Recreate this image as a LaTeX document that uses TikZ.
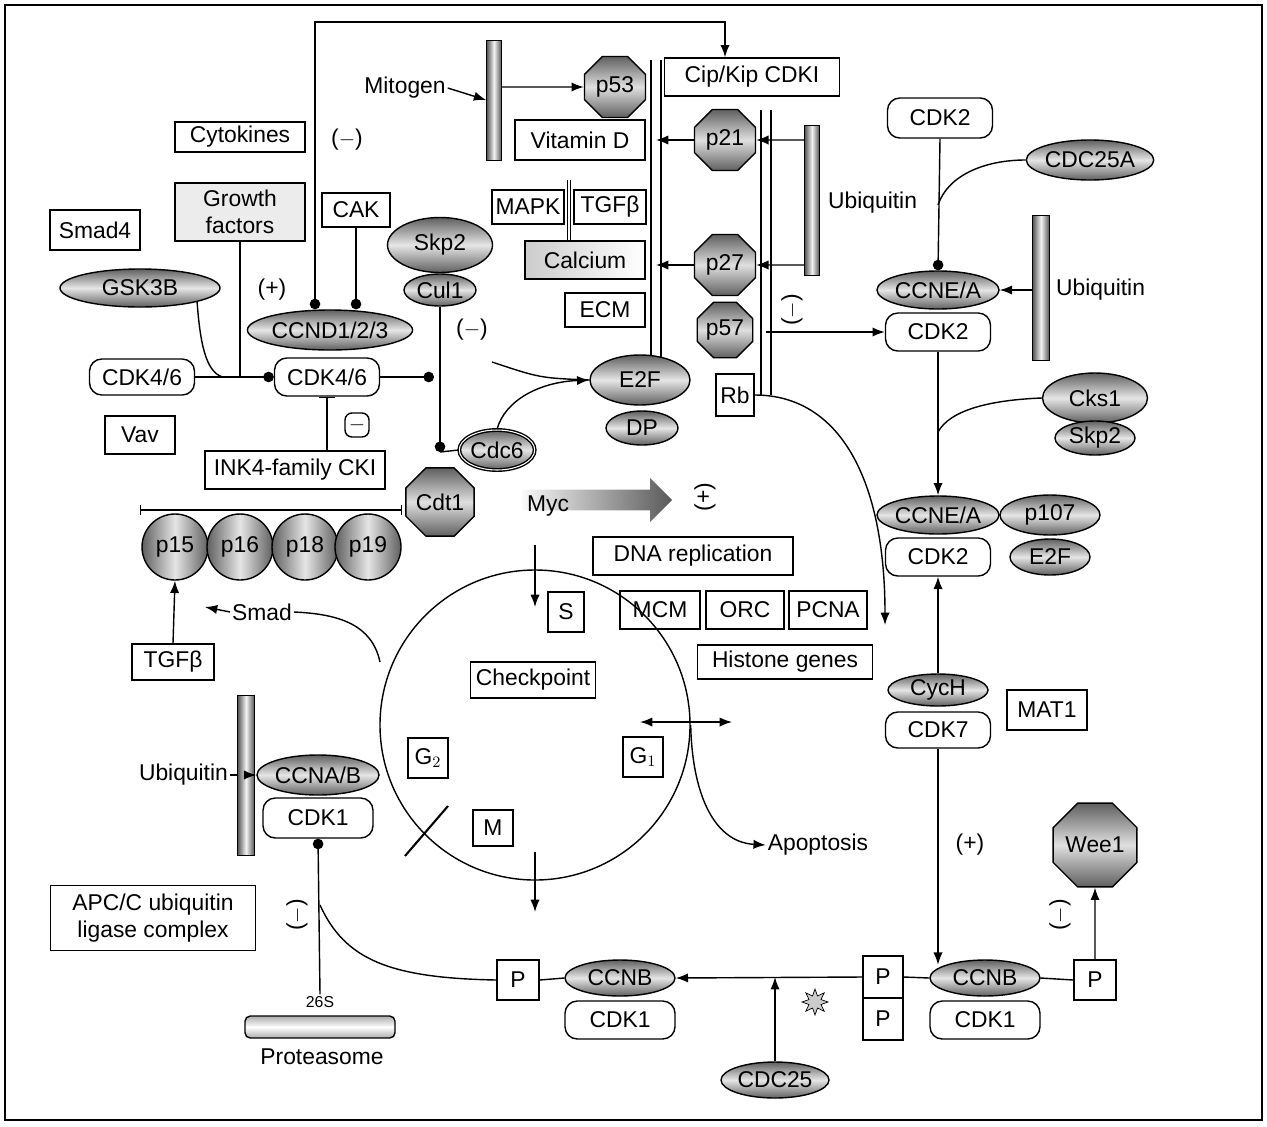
\documentclass[tikz,border=0pt]{standalone}
\usepackage{fontspec}
\setmainfont{Liberation Sans}
\usetikzlibrary{shapes.geometric,shapes.misc,shapes.arrows,arrows.meta,shadings,calc}
\begin{document}
\begin{tikzpicture}[x=0.02cm,y=-0.02cm,
  font=\fontsize{13}{15}\selectfont,
  wh/.style 2 args={minimum width=#1*0.02cm,minimum height=#2*0.02cm},
  bx/.style={draw,thick,rectangle,fill=white,inner sep=1pt},
  rbx/.style={draw,thick,rectangle,rounded corners=7pt,fill=white,inner sep=1pt},
  ell/.style={draw,thick,ellipse,inner sep=0pt,top color=gray!75!black,bottom color=gray!75!black,middle color=gray!20},
  oct/.style={draw,thick,regular polygon,regular polygon sides=8,inner sep=0pt,top color=gray!75!black,bottom color=gray!75!black,middle color=gray!25},
  bar/.style={draw,rectangle,inner sep=0pt,left color=gray!65!black,right color=gray!65!black,middle color=gray!10},
  circ/.style={draw,thick,circle,inner sep=0pt,minimum size=66*0.02cm,left color=gray!75!black,right color=gray!75!black,middle color=gray!20},
  lab/.style={inner sep=1pt},
  ln/.style={thick},
  arr/.style={thick,-{Latex[length=7pt]}},
  dot/.style={thick,-{Circle[length=6pt]}},
  inh/.style={thick,-{Bar[width=9pt]}}]
\useasboundingbox (0,0) rectangle (1267,1126);
\draw[thick] (5,5) rectangle (1262,1120);

% ---------- top-left ----------
\node[bx,wh={130}{30}] (cyto) at (240,137) {Cytokines};
\node[lab] (m1) at (347,140) {($-$)};
\node[bx,wh={130}{58},fill=gray!15,align=center] (growth) at (240,212) {Growth\\factors};
\node[bx,wh={68}{34}] (cak) at (356,210) {CAK};
\node[bx,wh={90}{40}] (smad4) at (95,230) {Smad4};
\node[ell,wh={160}{38}] (gsk) at (140,288) {GSK3B};
\node[lab] (p1) at (272,290) {(+)};
\node[ell,wh={160}{40}] (ccnd) at (330,330) {CCND1/2/3};
\node[rbx,wh={105}{36}] (cdk46a) at (142,377) {CDK4/6};
\node[rbx,wh={105}{38}] (cdk46) at (327,377) {CDK4/6};
\node[bx,wh={70}{38}] (vav) at (140,435) {Vav};
\node[rbx,rounded corners=4pt,wh={24}{24},inner sep=0pt] (m2) at (357,425) {$-$};
\node[bx,wh={180}{38}] (ink4) at (295,470) {INK4-family CKI};
\node[circ] (p15) at (175,547) {p15};
\node[circ] (p16) at (240,547) {p16};
\node[circ] (p18) at (305,547) {p18};
\node[circ] (p19) at (368,547) {p19};
\coordinate (b1) at (140,510);
\coordinate (b2) at (402,510);
\draw[thick,|-|] (b1) -- (b2);
\node[bx,wh={82}{36}] (tgfb1) at (173,662) {TGFβ};
\draw[arr] (tgfb1.north) -- (p15.south);
\node[lab] (smadt) at (262,612) {Smad};
\coordinate (sa) at (380,662);
\coordinate (sb) at (205,607);
\draw[ln] (sa) .. controls (372,625) and (340,614) .. (smadt.east);
\draw[arr] (smadt.west) -- (sb);

\coordinate (t1) at (315,22);
\coordinate (t2) at (725,22);
\node[bx,wh={175}{38}] (cip) at (752,77) {Cip/Kip CDKI};
\draw[thick,{Latex[length=7pt]}-{Circle[length=6pt]}] (t2 |- cip.north) -- (t2) -- (t1) -- (t1 |- ccnd.north);
\draw[dot] (cak.south) -- (cak.south |- ccnd.north);
\draw[ln] (growth.south) -- (growth.south |- cdk46.west);
\draw[dot] (cdk46a.east) -- (cdk46.west);
\draw[ln] (gsk.south east) .. controls (200,340) and (205,372) .. ($(cdk46a.east)!0.35!(cdk46.west)$);
\coordinate (c1) at (434,377);
\draw[dot] (cdk46.east) -- (c1);
\draw[thick,{Bar[width=9pt]}-] (cdk46.south) -- (cdk46.south |- ink4.north);

% ---------- top centre ----------
\node[lab] (mitog) at (405,88) {Mitogen};
\node[bar,wh={15}{120}] (ub1) at (494,100) {};
\draw[arr] (mitog.east) -- (ub1.west);
\node[oct,minimum size=66*0.02cm] (p53) at (615,87) {p53};
\draw[arr] (ub1.east |- p53) -- (p53.west);
\node[bx,wh={130}{40}] (vitd) at (580,140) {Vitamin D};
\node[bx,wh={72}{34}] (mapk) at (528,207) {MAPK};
\node[bx,wh={72}{34}] (tgfb2) at (610,207) {TGFβ};
\coordinate (dl1) at (569,180);
\coordinate (dl2) at (569,262);
\draw[thick,double] (dl1) -- (dl2);
\node[bx,wh={120}{38},left color=gray!40,right color=white] (calc) at (585,260) {Calcium};
\node[bx,wh={80}{34}] (ecm) at (605,310) {ECM};
\coordinate (v1t) at (656,60);
\coordinate (v1b) at (656,395);
\draw[thick,double,double distance=5pt] (v1t) -- (v1b);
\coordinate (v2t) at (766,110);
\coordinate (v2b) at (766,395);
\draw[thick,double,double distance=5pt] (v2t) -- (v2b);
\node[oct,minimum size=66*0.02cm] (p21) at (725,140) {p21};
\node[oct,minimum size=66*0.02cm] (p27) at (725,265) {p27};
\node[oct,minimum size=60*0.02cm] (p57) at (725,330) {p57};
\draw[arr] (p21.west) -- (p21.west -| v1t);
\draw[arr] (p27.west) -- (p27.west -| v1t);
\node[bar,wh={15}{150}] (ub2) at (812,200) {};
\node[lab,anchor=west] (ubl2) at (826,203) {Ubiquitin};
\draw[arr] (ub2.west |- p21) -- (p21.east);
\draw[arr] (ub2.west |- p27) -- (p27.east);
\node[lab,rotate=90] (m4) at (792,310) {($-$)};

% ---------- centre ----------
\node[ell,wh={105}{55}] (skpt) at (440,245) {Skp2};
\node[ell,wh={72}{32}] (skpb) at (440,290) {Cul1};
\node[lab] (m3) at (472,330) {($-$)};
\node[ell,double,wh={70}{40}] (cdc) at (497,450) {Cdc6};
\coordinate (c2) at (440,452);
\draw[dot] (skpb.south) -- (c2);
\draw[ln] (c2) -- (cdc.west);
\node[oct,minimum size=70*0.02cm] (cdt) at (440,502) {Cdt1};
\node[ell,wh={100}{50}] (e2f) at (640,380) {E2F};
\node[ell,wh={72}{34}] (dp) at (642,428) {DP};
\node[bx,wh={38}{42}] (rb) at (735,395) {Rb};
\coordinate (y1) at (492,362);
\draw[ln] (y1) .. controls (540,378) .. (e2f.west);
\draw[arr] (cdc.north) .. controls (505,400) and (540,382) .. (e2f.west);
\node[single arrow,draw=none,left color=gray!5,right color=gray!70!black,minimum width=44*0.02cm,minimum height=150*0.02cm,single arrow head extend=4pt] (bigarr) at (592,500) {};
\node[lab] (myc) at (548,506) {Myc};
\node[lab,rotate=90] (p2) at (705,497) {(+)};

\node[bx,wh={200}{38}] (dna) at (693,556) {DNA replication};
\node[bx,wh={80}{38}] (mcm) at (660,610) {MCM};
\node[bx,wh={78}{38}] (orc) at (745,610) {ORC};
\node[bx,wh={78}{38}] (pcna) at (828,610) {PCNA};
\node[bx,wh={175}{34}] (hist) at (785,662) {Histone genes};
\coordinate (rr) at (885,625);
\draw[arr] (rb.east) .. controls (840,395) and (885,480) .. (rr);

% ---------- cell cycle ----------
\node[draw,thick,circle,minimum size=310*0.02cm] (cyc) at (535,725) {};
\node[bx,wh={36}{40}] (sph) at (566,612) {S};
\node[bx,wh={125}{36}] (chk) at (533,680) {Checkpoint};
\node[bx,wh={40}{40}] (g2) at (428,758) {G$_2$};
\node[bx,wh={40}{40}] (g1) at (643,757) {G$_1$};
\node[bx,wh={40}{36}] (mph) at (493,828) {M};
\coordinate (tk1a) at (535,545);
\coordinate (tk1b) at (535,607);
\draw[arr] (tk1a) -- (tk1b);
\coordinate (tk2a) at (535,852);
\coordinate (tk2b) at (535,912);
\draw[arr] (tk2a) -- (tk2b);
\coordinate (tk3a) at (640,722);
\coordinate (tk3b) at (732,722);
\draw[thick,{Latex[length=7pt]}-{Latex[length=7pt]}] (tk3a) -- (tk3b);
\coordinate (x1) at (405,856);
\coordinate (x2) at (448,806);
\draw[very thick] (x1) -- (x2);
\node[lab] (apop) at (818,845) {Apoptosis};
\draw[arr] (cyc.east) .. controls (692,790) and (712,842) .. (apop.west);

% ---------- right ----------
\node[rbx,wh={105}{40}] (cdk2a) at (940,118) {CDK2};
\node[ell,wh={112}{40}] (cdc25a) at (1090,160) {CDC25A};
\node[ell,wh={108}{38}] (ccne1) at (938,290) {CCNE/A};
\node[rbx,wh={105}{38}] (cdk2b) at (938,332) {CDK2};
\draw[dot] (cdk2a.south) -- (ccne1.north);
\coordinate (q1) at (938,205);
\draw[ln] (cdc25a.west) .. controls (985,160) and (948,175) .. (q1);
\draw[arr] (v2t |- cdk2b) -- (cdk2b.west);
\node[bar,wh={17}{145}] (ub3) at (1041,288) {};
\node[lab,anchor=west] (ubl3) at (1054,290) {Ubiquitin};
\draw[arr] (ub3.west |- ccne1) -- (ccne1.east);
\node[ell,wh={105}{50}] (cks) at (1095,398) {Cks1};
\node[ell,wh={80}{34}] (skpr) at (1095,438) {Skp2};
\node[ell,wh={108}{38}] (ccne2) at (938,515) {CCNE/A};
\node[rbx,wh={105}{38}] (cdk2c) at (938,557) {CDK2};
\draw[arr] (cdk2b.south) -- (ccne2.north);
\coordinate (q2) at (938,432);
\draw[ln] (cks.west) .. controls (990,400) and (950,410) .. (q2);
\node[ell,wh={100}{40}] (p107) at (1050,515) {p107};
\node[ell,wh={80}{36}] (e2f4) at (1050,557) {E2F};
\node[ell,wh={100}{32}] (cych) at (938,690) {CycH};
\node[rbx,wh={105}{36}] (cdk7) at (938,730) {CDK7};
\node[bx,wh={80}{40}] (mat1) at (1047,710) {MAT1};
\draw[arr] (cych.north) -- (cdk2c.south);
\node[lab] (p3) at (970,845) {(+)};
\node[oct,minimum size=80*0.02cm] (wee1) at (1095,845) {Wee1};
\node[lab,rotate=90] (m5) at (1060,915) {($-$)};

% ---------- bottom ----------
\node[ell,wh={110}{36}] (ccnb2) at (985,978) {CCNB};
\node[rbx,wh={110}{38}] (cdk1b) at (985,1020) {CDK1};
\draw[arr] (cdk7.south) -- (cdk7.south |- ccnb2.north west);
\node[bx,wh={42}{40}] (pb1) at (1095,980) {P};
\draw[ln] (ccnb2.east) -- (pb1.west);
\draw[arr] (pb1.north) -- (wee1.south);
\node[bx,wh={40}{42}] (pb2a) at (883,977) {P};
\node[bx,wh={40}{42}] (pb2b) at (883,1019) {P};
\draw[ln] (pb2a.east) -- (ccnb2.west);
\node[ell,wh={110}{36}] (ccnb1) at (620,978) {CCNB};
\node[rbx,wh={110}{38}] (cdk1a) at (620,1020) {CDK1};
\draw[arr] (pb2a.west) -- (ccnb1.east);
\node[bx,wh={42}{40}] (pb3) at (518,980) {P};
\draw[ln] (pb3.east) -- (ccnb1.west);
\node[ell,wh={108}{36}] (cdc25c) at (775,1080) {CDC25};
\draw[arr] (cdc25c.north) -- (cdc25c.north |- pb2a.west);
\node[star,star points=8,star point ratio=2,draw,fill=gray!40,minimum size=26*0.02cm,inner sep=0pt] (spk) at (815,1002) {};

\node[bx,wh={205}{65},align=center] (apc) at (153,918) {APC/C ubiquitin\\ligase complex};
\node[bar,wh={17}{160}] (ub4) at (246,775) {};
\node[lab,anchor=east] (ubl4) at (230,775) {Ubiquitin};
\draw[ln] (ubl4.east) -- (ub4.west);
\node[ell,wh={112}{40}] (ccnab) at (318,775) {CCNA/B};
\node[rbx,wh={110}{40}] (cdk1c) at (318,818) {CDK1};
\draw[arr] (ub4.east |- ccnab) -- (ccnab.west);
\node[draw,thick,rectangle,rounded corners=3pt,wh={150}{22},top color=gray!65,bottom color=gray!65,middle color=white] (prot) at (320,1027) {};
\node[lab,font=\small] (s26) at (320,1002) {26S};
\node[lab] (protl) at (322,1057) {Proteasome};
\draw[dot] (s26.north) -- (cdk1c.south);
\coordinate (q3) at (320,905);
\draw[ln] (pb3.west) .. controls (390,978) and (345,960) .. (q3);
\node[lab,rotate=90] (m6) at (297,915) {($-$)};
\end{tikzpicture}
\end{document}
